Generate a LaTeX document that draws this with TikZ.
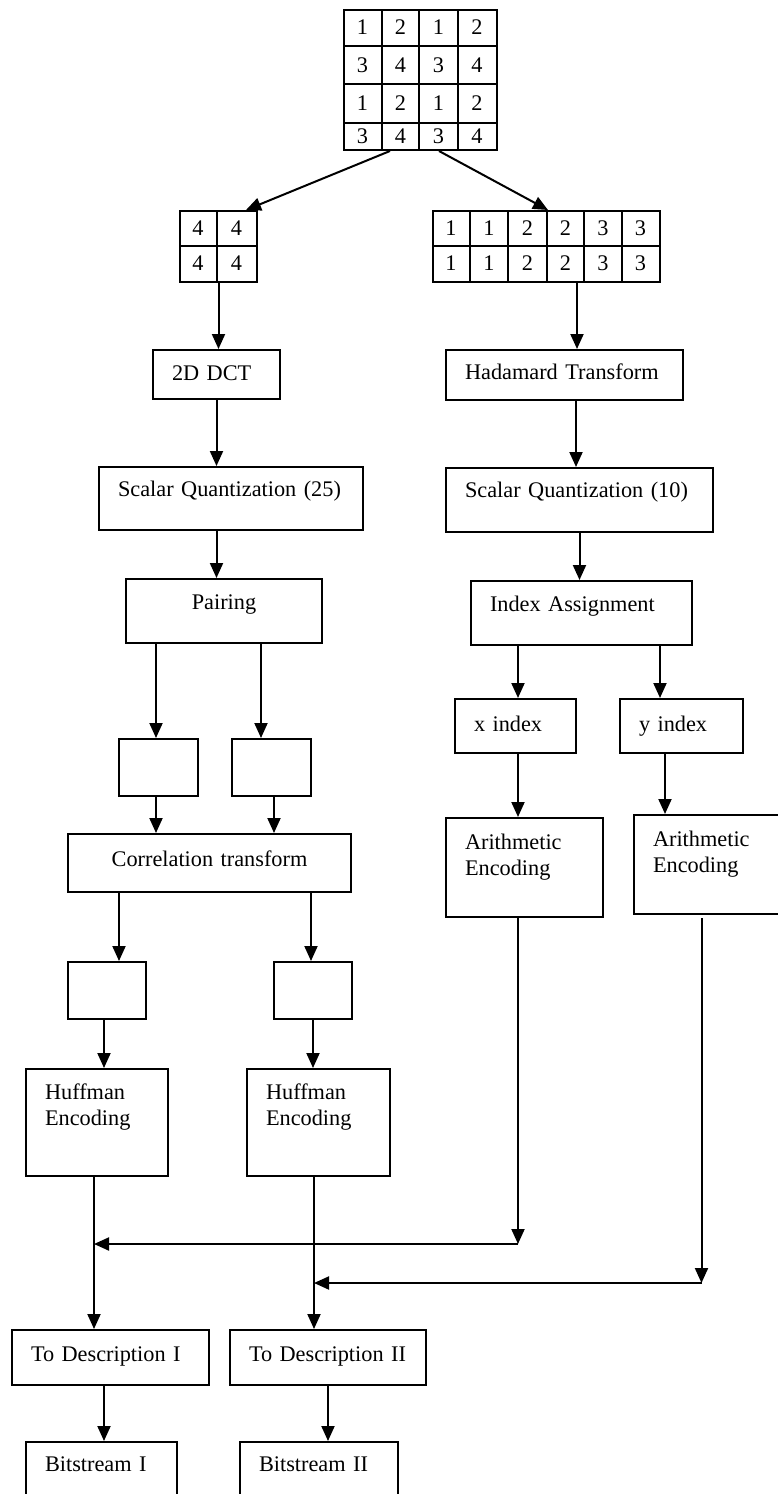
\documentclass[tikz,border=0pt]{standalone}
\usepackage{fontspec}
\setmainfont{Liberation Serif}
\usetikzlibrary{arrows.meta}
\tikzset{%
	block/.style  = {draw, line width=2pt, rectangle, anchor=north west,
		inner xsep=19pt, inner ysep=0pt, text height=15pt, align=left,
		font=\fontsize{22.3}{26.7}\selectfont},
	cblock/.style = {block, align=center}, % centred text
	grid/.style   = {draw, line width=2pt, rectangle, anchor=north west,
		inner sep=0pt},
	digit/.style  = {inner sep=0pt, font=\fontsize{22.3}{26.7}\selectfont},
	flow/.style   = {line width=2pt, ->}
}

\begin{document}
\begin{tikzpicture}[x=1pt, y=-1pt, >={Triangle[length=15pt,width=13pt]}]
	\useasboundingbox (0,0) rectangle (778,1494);
	\clip (0,0) rectangle (778,1494);

	% 4x4 block
	\node[grid, minimum width=153pt, minimum height=140pt] (src) at (343,9) {};
	\foreach \x in {382,419,458} \draw[line width=2pt] (\x,9) -- (\x,149);
	\foreach \y in {46,84,123} \draw[line width=2pt] (343,\y) -- (496,\y);
	\foreach \y/\a/\b [count=\r] in {27.5/1/2, 65/3/4, 103.5/1/2, 136/3/4}
		\foreach \x/\v [count=\c] in {362.5/\a, 400.5/\b, 438.5/\a, 477/\b}
			\node[digit] (s\r\c) at (\x,\y) {\v};

	% 2x2 and 2x6 blocks
	\node[grid, minimum width=77pt, minimum height=71pt] (low) at (179,210) {};
	\draw[line width=2pt] (217,210) -- (217,281);
	\draw[line width=2pt] (179,246) -- (256,246);
	\foreach \y [count=\r] in {228,263.5}
		\foreach \x [count=\c] in {198,236.5}
			\node[digit] (l\r\c) at (\x,\y) {4};

	\node[grid, minimum width=227pt, minimum height=71pt] (high) at (432,210) {};
	\foreach \x in {470,508,547,584,622} \draw[line width=2pt] (\x,210) -- (\x,281);
	\draw[line width=2pt] (432,246) -- (659,246);
	\foreach \y [count=\r] in {228,263.5}
		\foreach \x/\v [count=\c] in {451/1, 489/1, 527.5/2, 565.5/2, 603/3, 640.5/3}
			\node[digit] (h\r\c) at (\x,\y) {\v};

	% left branch
	\node[block, text width=89pt, minimum height=49pt, text depth=4pt] (dct) at (152,349) {2D DCT};
	\node[block, text width=226pt, minimum height=63pt, text depth=20pt] (sq25) at (98,466) {Scalar Quantization (25)};
	\node[cblock, text width=158pt, minimum height=64pt, text depth=19pt] (pair) at (125,578) {Pairing};
	\node[block, minimum width=79pt, minimum height=57pt, text depth=0pt] (p1) at (118,738) {};
	\node[block, minimum width=79pt, minimum height=57pt, text depth=0pt] (p2) at (231,738) {};
	\node[cblock, text width=245pt, minimum height=58pt, text depth=9pt] (corr) at (67,833) {Correlation transform};
	\node[block, minimum width=78pt, minimum height=57pt, text depth=0pt] (c1) at (67,961) {};
	\node[block, minimum width=78pt, minimum height=57pt, text depth=0pt] (c2) at (273,961) {};
	\node[block, text width=104pt, minimum height=107pt, text depth=62pt] (huff1) at (25,1068) {Huffman\\Encoding};
	\node[block, text width=105pt, minimum height=107pt, text depth=62pt] (huff2) at (246,1068) {Huffman\\Encoding};
	\node[block, text width=159pt, minimum height=55pt, text depth=8pt] (desc1) at (11,1329) {To Description I};
	\node[block, text width=158pt, minimum height=55pt, text depth=8pt] (desc2) at (229,1329) {To Description II};
	\node[block, text width=113pt, minimum height=80pt, text depth=37pt] (bits1) at (25,1441) {Bitstream I};
	\node[block, text width=120pt, minimum height=80pt, text depth=37pt] (bits2) at (239,1441) {Bitstream II};

	% right branch
	\node[block, text width=199pt, minimum height=50pt, text depth=7pt] (had) at (445,349) {Hadamard Transform};
	\node[block, text width=229pt, minimum height=64pt, text depth=21pt] (sq10) at (445,467) {Scalar Quantization (10)};
	\node[block, text width=183pt, minimum height=64pt, text depth=19pt] (idx) at (470,580) {Index Assignment};
	\node[block, text width=83pt, minimum height=54pt, text depth=5pt] (xidx) at (454,698) {x index};
	\node[block, text width=85pt, minimum height=54pt, text depth=5pt] (yidx) at (619,698) {y index};
	\node[block, text width=119pt, minimum height=99pt, text depth=52pt] (arith1) at (445,817) {Arithmetic\\Encoding};
	\node[block, text width=107pt, minimum height=99pt, text depth=52pt] (arith2) at (633,814) {Arithmetic\\Encoding};

	% merge points
	\coordinate (n1) at ([xshift=-3pt]huff1.south |- 0,1244);
	\coordinate (m1) at ([xshift=-6.5pt]arith1.south |- n1);
	\coordinate (n2) at ([xshift=-4.5pt]huff2.south |- 0,1283);
	\coordinate (m2) at ([xshift=-5pt]arith2.south |- n2);

	% connectors
	\draw[flow] ([xshift=-30.5pt]src.south) -- ([xshift=27.5pt]low.north);
	\draw[flow] ([xshift=18.5pt]src.south) -- ([xshift=1.5pt]high.north);
	\draw[flow] (low.south) -- (low.south |- dct.north);
	\draw[flow] ([xshift=30.5pt]high.south) -- ([xshift=30.5pt]high.south |- had.north);

	\draw[flow] (dct.south) -- (dct.south |- sq25.north);
	\draw[flow] (dct.south |- sq25.south) -- (dct.south |- pair.north);
	\draw[flow] ([xshift=-2.5pt]p1.north |- pair.south) -- ([xshift=-2.5pt]p1.north);
	\draw[flow] ([xshift=-10.5pt]p2.north |- pair.south) -- ([xshift=-10.5pt]p2.north);
	\draw[flow] ([xshift=-2.5pt]p1.south) -- ([xshift=-2.5pt]p1.south |- corr.north);
	\draw[flow] ([xshift=2.5pt]p2.south) -- ([xshift=2.5pt]p2.south |- corr.north);
	\draw[flow] ([xshift=12pt]c1.north |- corr.south) -- ([xshift=12pt]c1.north);
	\draw[flow] ([xshift=-2pt]c2.north |- corr.south) -- ([xshift=-2pt]c2.north);
	\draw[flow] ([xshift=-3pt]c1.south) -- ([xshift=-3pt]c1.south |- huff1.north);
	\draw[flow] (c2.south) -- (c2.south |- huff2.north);
	\draw[flow] ([xshift=-3pt]huff1.south) -- ([xshift=-3pt]huff1.south |- desc1.north);
	\draw[flow] ([xshift=-4.5pt]huff2.south) -- ([xshift=-4.5pt]huff2.south |- desc2.north);
	\draw[flow] ([xshift=-6.5pt]desc1.south) -- ([xshift=-6.5pt]desc1.south |- bits1.north);
	\draw[flow] (desc2.south) -- (desc2.south |- bits2.north);

	\draw[flow] ([xshift=11.5pt]had.south) -- ([xshift=11.5pt]had.south |- sq10.north);
	\draw[flow] (sq10.south) -- (sq10.south |- idx.north);
	\draw[flow] ([xshift=2.5pt]xidx.north |- idx.south) -- ([xshift=2.5pt]xidx.north);
	\draw[flow] ([xshift=-21.5pt]yidx.north |- idx.south) -- ([xshift=-21.5pt]yidx.north);
	\draw[flow] ([xshift=2.5pt]xidx.south) -- ([xshift=2.5pt]xidx.south |- arith1.north);
	\draw[flow] ([xshift=-16.5pt]yidx.south) -- ([xshift=-16.5pt]yidx.south |- arith2.north);

	\draw[flow] ([xshift=-6.5pt]arith1.south) -- (m1);
	\draw[flow] (m1) -- (n1);
	\draw[flow] ([xshift=-5pt,yshift=-3pt]arith2.south) -- (m2);
	\draw[flow] (m2) -- (n2);
\end{tikzpicture}
\end{document}
